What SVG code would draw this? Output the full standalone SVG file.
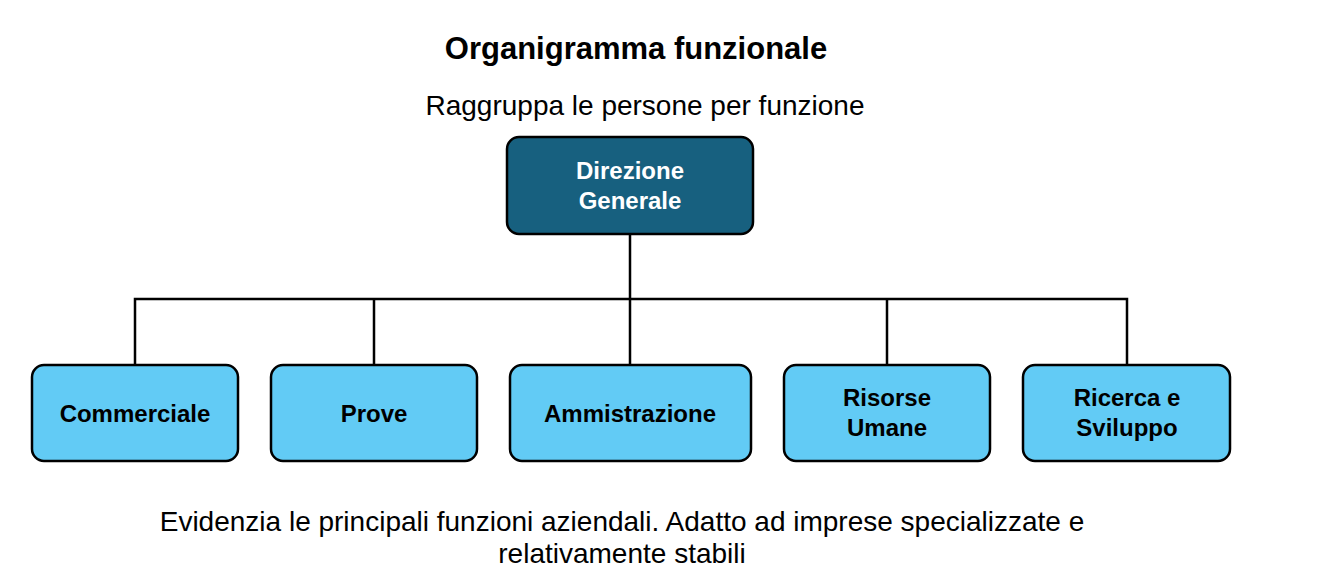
<svg xmlns="http://www.w3.org/2000/svg" width="1335" height="571" viewBox="0 0 1335 571">
<style>
.t{font-family:"Liberation Sans",Arial,sans-serif;fill:#000;text-anchor:middle}
.b{font-family:"Liberation Sans",Arial,sans-serif;font-weight:bold;font-size:24px;text-anchor:middle}
.box{fill:#62cbf5;stroke:#000;stroke-width:2.5}
.c{stroke:#000;stroke-width:2.5;fill:none}
</style>
<rect width="1335" height="571" fill="#fff"/>
<text class="t" x="636" y="59" font-size="31" font-weight="bold">Organigramma funzionale</text>
<text class="t" x="645" y="115" font-size="28">Raggruppa le persone per funzione</text>
<g id="connectors">
<path class="c" d="M630 234V299M135 365V299H1127V365M374 299V365M630 299V365M887 299V365"/>
</g>
<g id="direzione"><rect x="507" y="137" width="246" height="97" rx="12" fill="#17607f" stroke="#000" stroke-width="2.5"/>
<text class="b" x="630" y="179" fill="#fff">Direzione</text><text class="b" x="630" y="209" fill="#fff">Generale</text></g>
<g id="commerciale"><rect class="box" x="32" y="365" width="206" height="96" rx="12"/><text class="b" x="135" y="422">Commerciale</text></g>
<g id="prove"><rect class="box" x="271" y="365" width="206" height="96" rx="12"/><text class="b" x="374" y="422">Prove</text></g>
<g id="amministrazione"><rect class="box" x="510" y="365" width="241" height="96" rx="12"/><text class="b" x="630" y="422">Ammistrazione</text></g>
<g id="risorse"><rect class="box" x="784" y="365" width="206" height="96" rx="12"/><text class="b" x="887" y="406">Risorse</text><text class="b" x="887" y="436">Umane</text></g>
<g id="ricerca"><rect class="box" x="1023" y="365" width="207" height="96" rx="12"/><text class="b" x="1127" y="406">Ricerca e</text><text class="b" x="1127" y="436">Sviluppo</text></g>
<text class="t" x="622" y="531" font-size="28">Evidenzia le principali funzioni aziendali. Adatto ad imprese specializzate e</text>
<text class="t" x="622" y="563" font-size="28">relativamente stabili</text>
</svg>
